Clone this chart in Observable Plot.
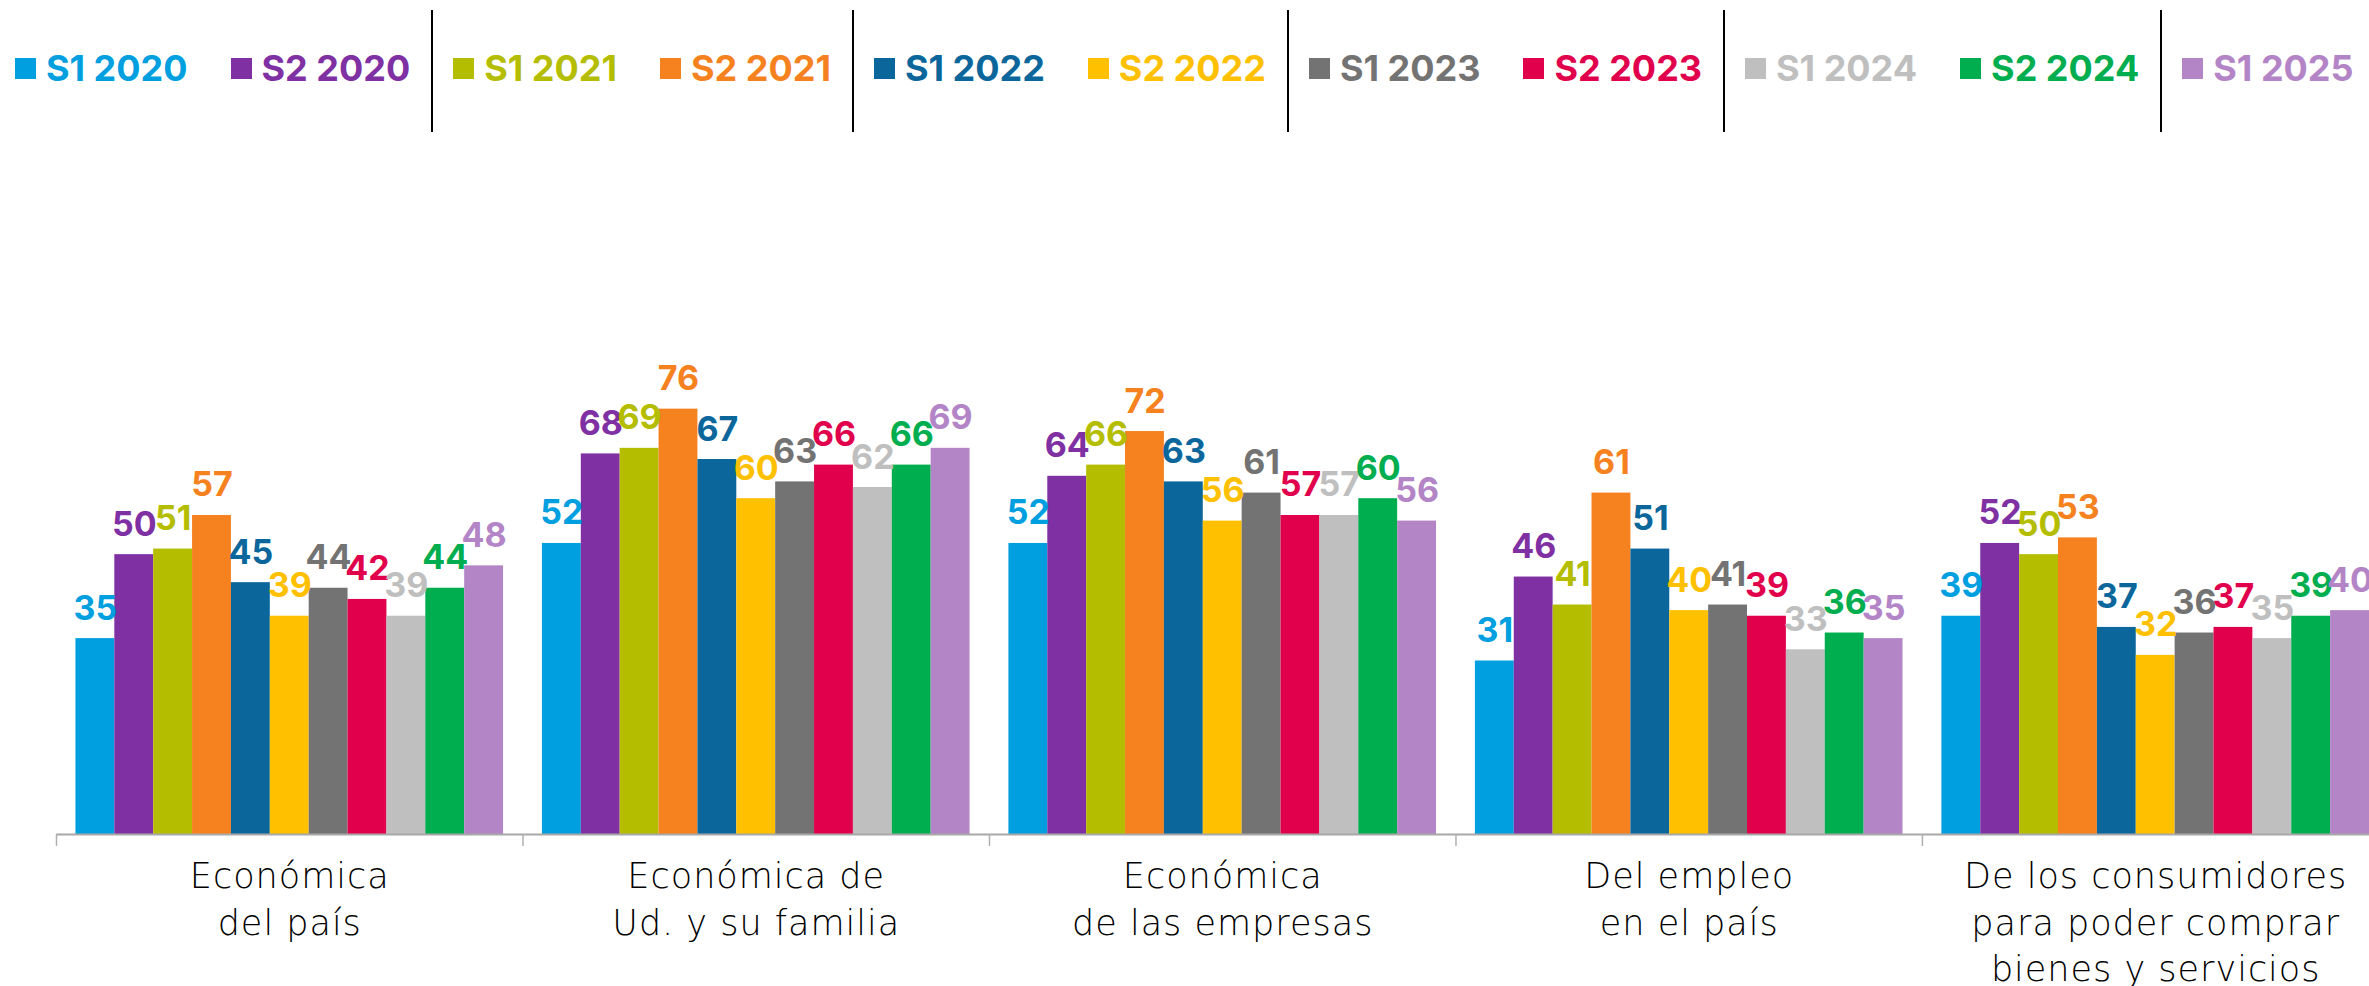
<!DOCTYPE html>
<html><head><meta charset="utf-8">
<script src="https://cdn.jsdelivr.net/npm/d3@7"></script>
<script src="https://cdn.jsdelivr.net/npm/@observablehq/plot@0.6"></script>
<style>
html,body{margin:0;padding:0;background:#fff;overflow:hidden;}
#legend{height:140px;display:flex;align-items:stretch;padding:10px 0 8px 15px;box-sizing:border-box;white-space:nowrap;}
.pair{display:flex;align-items:center;gap:43px;flex:none;}
.sep{width:2px;background:#000;margin:0 20px 0 21px;flex:none;}
.item{display:flex;align-items:center;gap:10px;font-family:Inter,sans-serif;font-weight:700;font-size:36px;line-height:1;margin-top:-6px;white-space:nowrap;flex:none;}
.sw{width:21px;height:21px;flex:none;}
#chart svg{display:block;}
g[font-family="DejaVu Sans"] text{letter-spacing:1px;}
</style>
</head><body>
<div id="legend"></div>
<div id="chart"></div>
<script>
const series = ["S1 2020","S2 2020","S1 2021","S2 2021","S1 2022","S2 2022","S1 2023","S2 2023","S1 2024","S2 2024","S1 2025"];
const colors = ["#009fdf","#7f30a3","#b5bd00","#f6821f","#0b679b","#ffc000","#737373","#e1004c","#bfbfbf","#00ad4f","#b385c7"];
const categories = [
  "Económica\ndel país",
  "Económica de\nUd. y su familia",
  "Económica\nde las empresas",
  "Del empleo\nen el país",
  "De los consumidores\npara poder comprar\nbienes y servicios"
];
const valsPais       = [35, 50, 51, 57, 45, 39, 44, 42, 39, 44, 48];
const valsFamilia    = [52, 68, 69, 76, 67, 60, 63, 66, 62, 66, 69];
const valsEmpresas   = [52, 64, 66, 72, 63, 56, 61, 57, 57, 60, 56];
const valsEmpleo     = [31, 46, 41, 61, 51, 40, 41, 39, 33, 36, 35];
const valsConsumo    = [39, 52, 50, 53, 37, 32, 36, 37, 35, 39, 40];
const valueLists = [valsPais, valsFamilia, valsEmpresas, valsEmpleo, valsConsumo];

// legend
const legend = document.getElementById("legend");
for (let p = 0; p < series.length; p += 2) {
  const pair = document.createElement("div");
  pair.className = "pair";
  for (let s = p; s < Math.min(p + 2, series.length); s++) {
    const it = document.createElement("div");
    it.className = "item";
    it.style.color = colors[s];
    it.innerHTML = `<span class="sw" style="background:${colors[s]}"></span><span>${series[s]}</span>`;
    pair.appendChild(it);
  }
  legend.appendChild(pair);
  if (p + 2 < series.length) {
    const sep = document.createElement("div");
    sep.className = "sep";
    legend.appendChild(sep);
  }
}

// data table: each group = 11 bars + one bar-width of gap (half on each side)
const slot = series.length + 1;
const rows = [];
categories.forEach((c, gi) => {
  valueLists[gi].forEach((v, si) => {
    rows.push({cat: c, series: series[si], value: v, x1: gi * slot + si + 0.5, x2: gi * slot + si + 1.5});
  });
});
const boundaries = categories.map((c, i) => i * slot);

const chart = Plot.plot({
  width: 2369,
  height: 846,
  marginLeft: 56,
  marginRight: 0,
  marginTop: 0,
  marginBottom: 152,
  x: {domain: [0, categories.length * slot - 0.5], axis: null},
  y: {domain: [0, 124], axis: null},
  color: {domain: series, range: colors},
  marks: [
    Plot.rectY(rows, {x1: "x1", x2: "x2", y1: 0, y2: "value", fill: "series"}),
    Plot.ruleY([0], {stroke: "#a8a8a8", strokeWidth: 2}),
    Plot.axisX(boundaries, {tickSize: 12, tickFormat: () => "", color: "#b0b0b0", strokeWidth: 1.5}),
    Plot.text(rows, {
      x: d => (d.x1 + d.x2) / 2, y: "value", text: d => String(d.value), fill: "series",
      lineAnchor: "bottom", dy: -19, fontSize: 34, fontWeight: 700, fontFamily: "Inter, sans-serif"
    }),
    Plot.text(categories, {
      x: (d, i) => i * slot + slot / 2, y: 0, text: d => d,
      lineAnchor: "top", dy: 21, fontSize: 35, lineHeight: 1.32,
      fontFamily: "DejaVu Sans", fontWeight: 200, fill: "#000"
    })
  ]
});
document.getElementById("chart").appendChild(chart);
</script>
</body></html>
